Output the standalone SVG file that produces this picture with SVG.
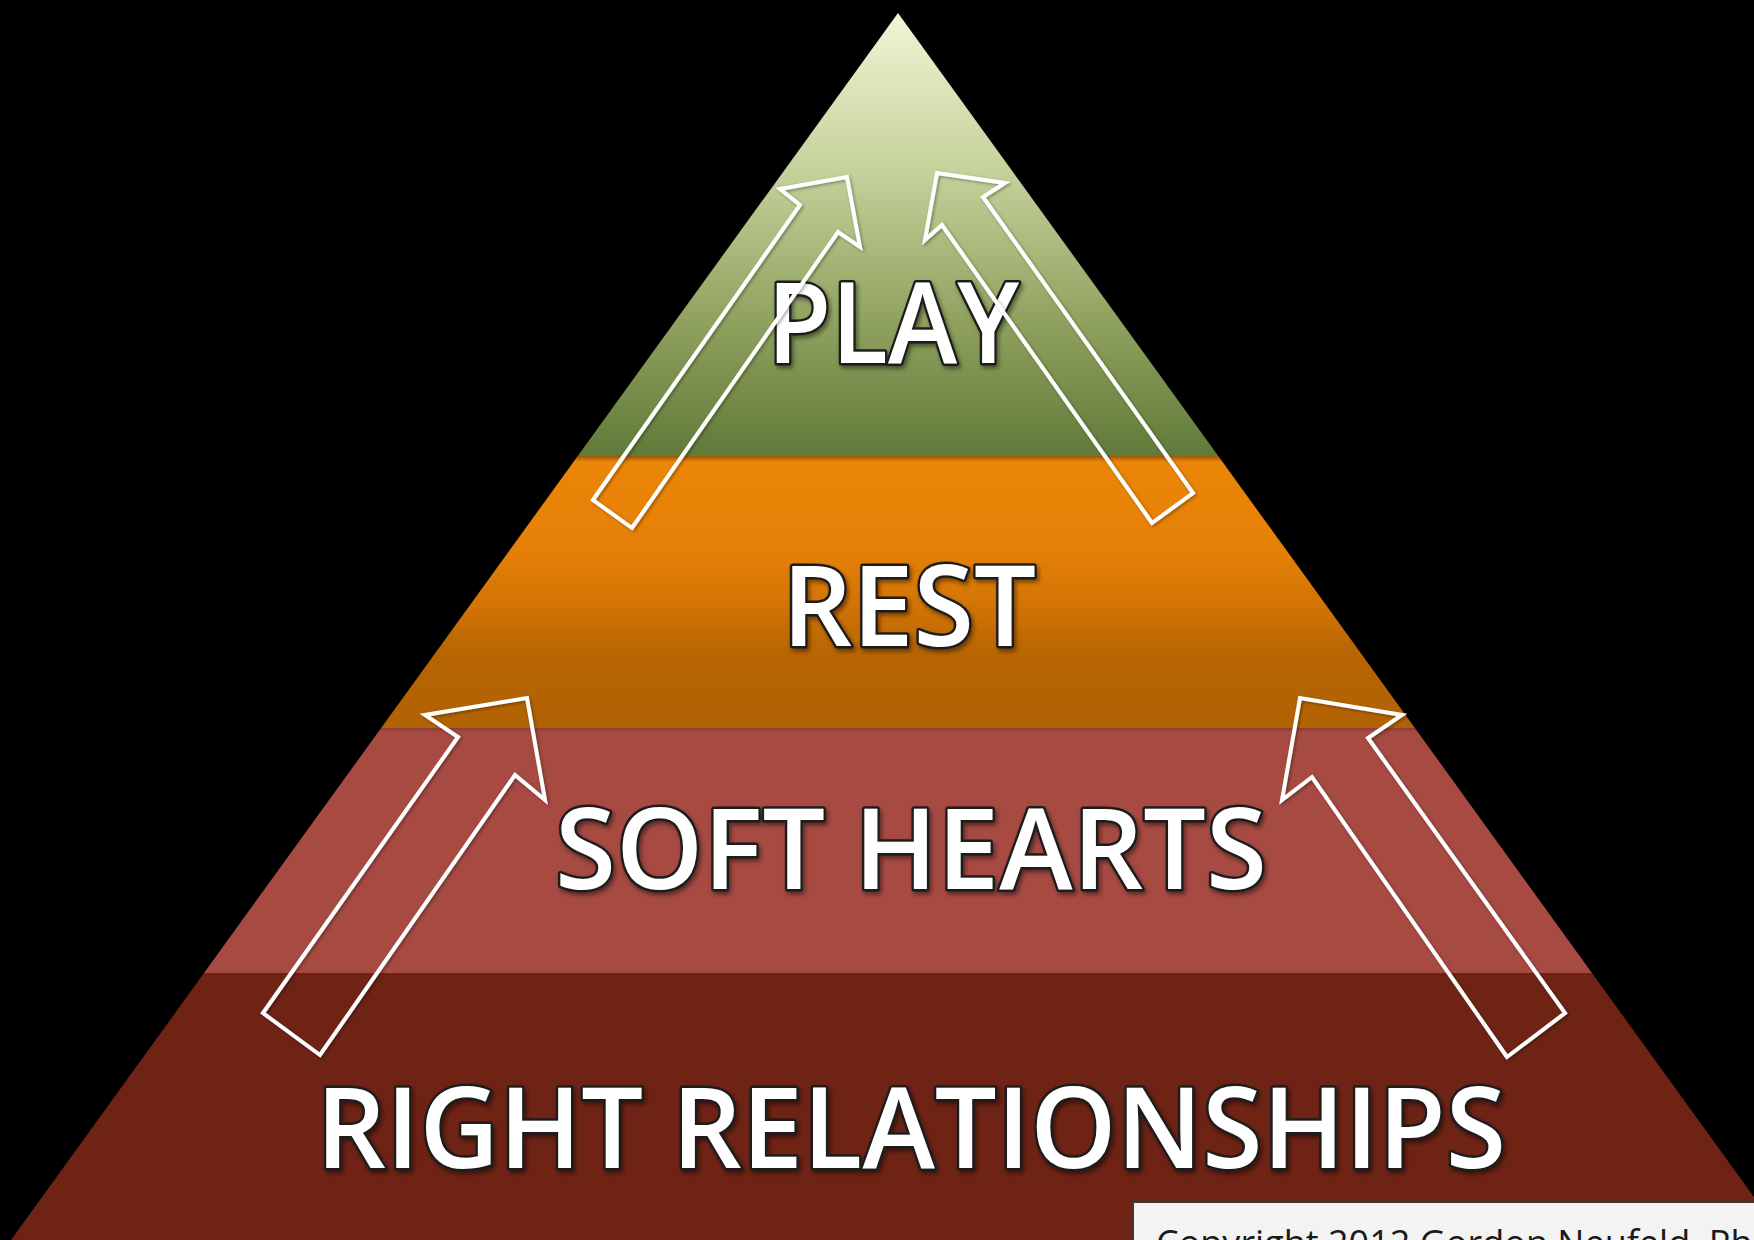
<svg xmlns="http://www.w3.org/2000/svg" width="1754" height="1240" viewBox="0 0 1754 1240">
  <defs>
    <clipPath id="tri">
      <polygon points="898,13 1785,1240 11,1240"/>
    </clipPath>
    <linearGradient id="gGreen" gradientUnits="userSpaceOnUse" x1="0" y1="13" x2="0" y2="456">
      <stop offset="0" stop-color="#f1f5d4"/>
      <stop offset="0.35" stop-color="#c6d29c"/>
      <stop offset="0.7" stop-color="#8fa15e"/>
      <stop offset="1" stop-color="#617a39"/>
    </linearGradient>
    <linearGradient id="gOrange" gradientUnits="userSpaceOnUse" x1="0" y1="456" x2="0" y2="728">
      <stop offset="0" stop-color="#ec8609"/>
      <stop offset="0.35" stop-color="#e58007"/>
      <stop offset="0.55" stop-color="#d27405"/>
      <stop offset="0.72" stop-color="#b86503"/>
      <stop offset="1" stop-color="#b16203"/>
    </linearGradient>
    <linearGradient id="gShade" x1="0" y1="0" x2="0" y2="1">
      <stop offset="0" stop-color="#000" stop-opacity="0.35"/>
      <stop offset="1" stop-color="#000" stop-opacity="0"/>
    </linearGradient>
    <filter id="tshadow" x="-10%" y="-20%" width="120%" height="150%">
      <feDropShadow dx="2" dy="3" stdDeviation="2" flood-color="#000" flood-opacity="0.45"/>
    </filter>
    <filter id="ashadow" x="-10%" y="-10%" width="120%" height="120%">
      <feDropShadow dx="1.5" dy="1.5" stdDeviation="1.5" flood-color="#000" flood-opacity="0.35"/>
    </filter>
    <style>
      .lbl { font-family: "Open Sans", "Liberation Sans", sans-serif; font-size: 112px; font-weight: 600; fill: #ffffff; stroke: #1e1e1e; stroke-width: 5; paint-order: stroke; stroke-linejoin: round; text-anchor: middle; filter: url(#tshadow); }
      .arrow { fill: none; stroke: #ffffff; stroke-width: 4; stroke-linejoin: miter; filter: url(#ashadow); }
      .copy { font-family: "Open Sans", "Liberation Sans", sans-serif; font-size: 36px; fill: #1a1a1a; }
    </style>
  </defs>

  <rect x="0" y="0" width="1754" height="1240" fill="#000000"/>

  <g clip-path="url(#tri)">
    <g id="layer-play">
      <rect x="0" y="0" width="1754" height="456" fill="url(#gGreen)"/>
    </g>
    <g id="layer-rest">
      <rect x="0" y="456" width="1754" height="272" fill="url(#gOrange)"/>
      <rect x="0" y="456" width="1754" height="6" fill="url(#gShade)"/>
    </g>
    <g id="layer-soft-hearts">
      <rect x="0" y="728" width="1754" height="245" fill="#a64a42"/>
      <rect x="0" y="728" width="1754" height="4" fill="url(#gShade)" opacity="0.5"/>
    </g>
    <g id="layer-right-relationships">
      <rect x="0" y="973" width="1754" height="267" fill="#6e2315"/>
    </g>
  </g>

  <g id="labels">
    <text class="lbl" x="893" y="363" textLength="252" lengthAdjust="spacingAndGlyphs">PLAY</text>
    <text class="lbl" x="909" y="646" textLength="254" lengthAdjust="spacingAndGlyphs">REST</text>
    <text class="lbl" x="911" y="889" textLength="712" lengthAdjust="spacingAndGlyphs">SOFT HEARTS</text>
    <text class="lbl" x="911" y="1168" textLength="1190" lengthAdjust="spacingAndGlyphs">RIGHT RELATIONSHIPS</text>
  </g>

  <g id="connectors">
    <polygon class="arrow" points="593,500 800,205 780,189 847,177 860,247 838,232 632,528"/>
    <polygon class="arrow" points="1152,523 942,225 925,240 937,173 1005,183 983,197 1193,493"/>
    <polygon class="arrow" points="263,1013 458,737 425,715 527,698 545,800 515,775 320,1055"/>
    <polygon class="arrow" points="1507,1057 1312,777 1282,800 1300,698 1402,715 1368,738 1565,1013"/>
  </g>

  <g id="copyright">
    <rect x="1131" y="1200" width="640" height="60" fill="#3a3a3a" opacity="0.6"/>
    <rect x="1134" y="1203" width="640" height="60" fill="#f3f3f3"/>
    <text class="copy" x="1156" y="1256">Copyright 2012 Gordon Neufeld, Ph</text>
  </g>
</svg>
